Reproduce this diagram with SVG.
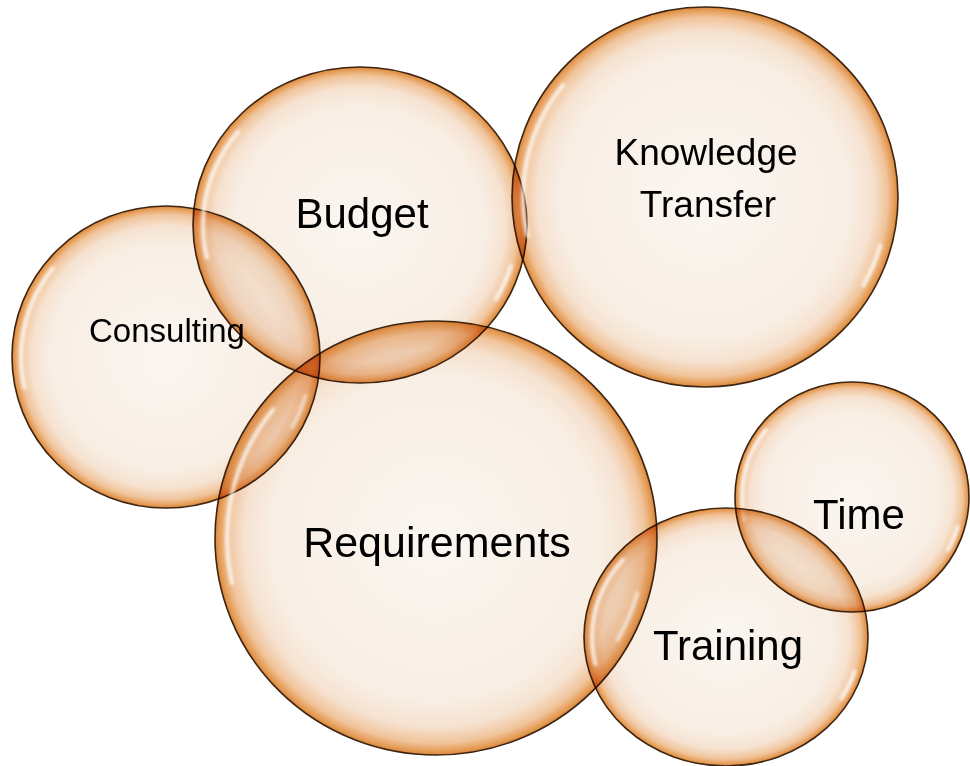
<svg xmlns="http://www.w3.org/2000/svg" width="970" height="766" viewBox="0 0 970 766">
  <defs>
    <radialGradient id="bub" cx="0.5" cy="0.5" r="0.5">
      <stop offset="0" stop-color="#FBF6F1"/>
      <stop offset="0.75" stop-color="#F8EEE4"/>
      <stop offset="0.87" stop-color="#F6E2D0"/>
      <stop offset="0.945" stop-color="#F0C49B"/>
      <stop offset="0.985" stop-color="#E59A52"/>
      <stop offset="1" stop-color="#D3843A"/>
    </radialGradient>
    <filter id="soft" x="-10%" y="-10%" width="120%" height="120%">
      <feGaussianBlur stdDeviation="1.4"/>
    </filter>
    <style>
      .ball { fill: url(#bub); stroke: #3E2512; stroke-width: 1.6; mix-blend-mode: multiply; }
      .hl { fill: none; stroke: #FFFFFF; stroke-width: 4; stroke-opacity: 0.75; filter: url(#soft); stroke-dasharray: 0 15 15 137 52 141; }
      .lbl { font-family: "Liberation Sans", Arial, sans-serif; fill: #000000; text-anchor: middle; }
    </style>
  </defs>

  <g id="connectors"></g>

  <g id="consulting">
    <ellipse class="ball" cx="166" cy="357" rx="154" ry="151"/>
    <ellipse class="hl" cx="166" cy="357" rx="145" ry="142" pathLength="360"/>
    <text class="lbl" x="167" y="342" font-size="33">Consulting</text>
  </g>

  <g id="budget">
    <ellipse class="ball" cx="360" cy="225" rx="167" ry="158"/>
    <ellipse class="hl" cx="360" cy="225" rx="157" ry="148" pathLength="360"/>
    <text class="lbl" x="362" y="228" font-size="42">Budget</text>
  </g>

  <g id="knowledge-transfer">
    <ellipse class="ball" cx="705" cy="197" rx="193" ry="190"/>
    <ellipse class="hl" cx="705" cy="197" rx="182" ry="179" pathLength="360"/>
    <text class="lbl" x="706" y="165" font-size="37">Knowledge</text>
    <text class="lbl" x="708" y="217" font-size="37">Transfer</text>
  </g>

  <g id="requirements">
    <ellipse class="ball" cx="436" cy="538" rx="221" ry="217"/>
    <ellipse class="hl" cx="436" cy="538" rx="209" ry="205" pathLength="360"/>
    <text class="lbl" x="437" y="557" font-size="43">Requirements</text>
  </g>

  <g id="time">
    <ellipse class="ball" cx="852" cy="497" rx="117" ry="115"/>
    <ellipse class="hl" cx="852" cy="497" rx="110" ry="108" pathLength="360"/>
    <text class="lbl" x="859" y="529" font-size="42">Time</text>
  </g>

  <g id="training">
    <ellipse class="ball" cx="726" cy="637" rx="142" ry="129"/>
    <ellipse class="hl" cx="726" cy="637" rx="134" ry="121" pathLength="360"/>
    <text class="lbl" x="728" y="660" font-size="42">Training</text>
  </g>
</svg>
